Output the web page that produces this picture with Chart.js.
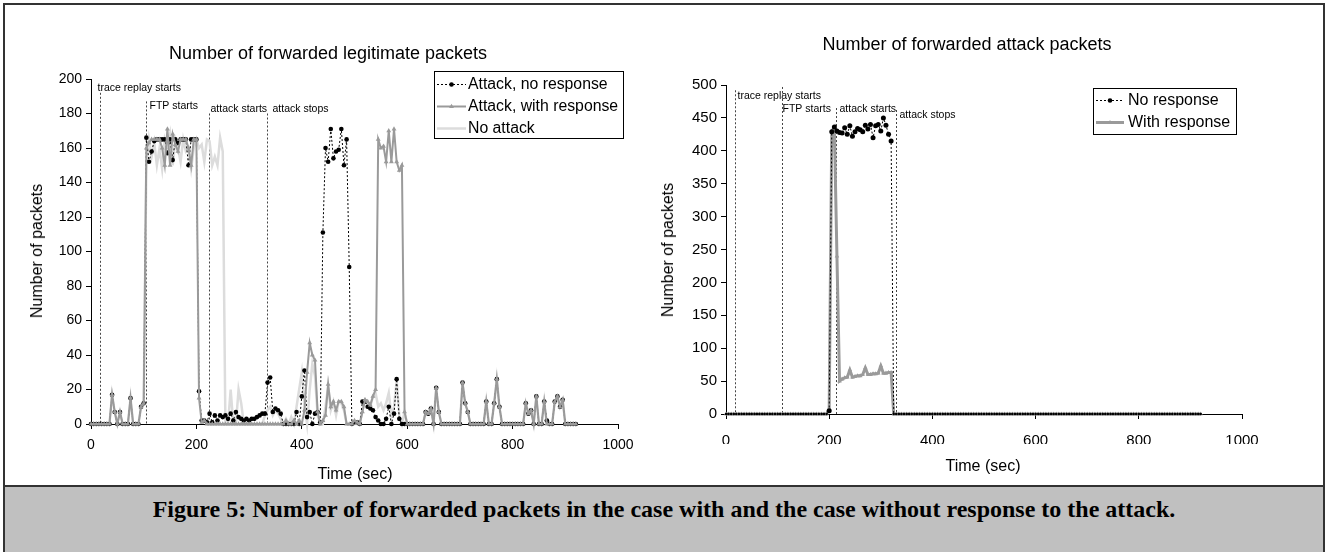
<!DOCTYPE html>
<html>
<head>
<meta charset="utf-8">
<script src="https://cdn.jsdelivr.net/npm/chart.js@4.4.1/dist/chart.umd.min.js"></script>
<style>
  html, body { margin:0; padding:0; background:#fff; }
  body { width:1328px; height:552px; position:relative; overflow:hidden; font-family:"Liberation Sans", Arial, sans-serif; }
  #frame { position:absolute; left:3px; top:3px; width:1322px; height:600px; border:2px solid #333; box-sizing:border-box; }
  #caption { position:absolute; left:3px; top:485px; width:1322px; height:80px; background:#c0c0c0; border-top:2px solid #333; border-left:2px solid #333; border-right:2px solid #333; box-sizing:border-box; }
  #caption div { position:absolute; left:0; right:0; top:10px; text-align:center; font-family:"Liberation Serif","Times New Roman",serif; font-weight:bold; font-size:24px; line-height:1; color:#000; }
  .lbl { position:absolute; white-space:nowrap; color:#000; line-height:1; transform:translate(-50%,-50%); }
  .rot { transform:translate(-50%,-50%) rotate(-90deg); }
  canvas { position:absolute; top:0; }
</style>
</head>
<body>
<div id="frame"></div>
<canvas id="c1" width="664" height="485" style="left:0px"></canvas>
<canvas id="c2" width="664" height="485" style="left:664px"></canvas>
<div class="lbl" style="left:328px;top:53px;font-size:18px;">Number of forwarded legitimate packets</div>
<div class="lbl" style="left:967px;top:44px;font-size:18px;">Number of forwarded attack packets</div>
<div class="lbl rot" style="left:37px;top:251px;font-size:16px;">Number of packets</div>
<div class="lbl rot" style="left:668px;top:250px;font-size:16px;">Number of packets</div>
<div class="lbl" style="left:355px;top:474px;font-size:16px;">Time (sec)</div>
<div class="lbl" style="left:983px;top:466px;font-size:16px;">Time (sec)</div>
<div id="caption"><div>Figure 5: Number of forwarded packets in the case with and the case without response to the attack.</div></div>
<script>
// ---------------- DATA ----------------
const timeSec = [
0,5,10,15,20,25,30,35,40,45,50,55,60,65,70,75,80,85,90,95,
100,105,110,115,120,125,130,135,140,145,150,155,160,165,170,175,180,185,190,195,
200,205,210,215,220,225,230,235,240,245,250,255,260,265,270,275,280,285,290,295,
300,305,310,315,320,325,330,335,340,345,350,355,360,365,370,375,380,385,390,395,
400,405,410,415,420,425,430,435,440,445,450,455,460,465,470,475,480,485,490,495,
500,505,510,515,520,525,530,535,540,545,550,555,560,565,570,575,580,585,590,595,
600,605,610,615,620,625,630,635,640,645,650,655,660,665,670,675,680,685,690,695,
700,705,710,715,720,725,730,735,740,745,750,755,760,765,770,775,780,785,790,795,
800,805,810,815,820,825,830,835,840,845,850,855,860,865,870,875,880,885,890,895,
900,905,910,915,920];

// Left chart: forwarded legitimate packets
const legitAttackNoResponse = [
0,0,0,0,0,0,0,0,17,7,0,7,0,0,0,15,0,0,0,10,
12,166,152,158,164,165,165,165,165,157,165,153,165,163,165,165,165,150,165,165,
165,19,2,2,1,6,1,5,2,5,4,5,3,6,2,7,4,3,2,3,
2,3,3,4,5,6,6,24,27,7,9,8,6,0,0,0,0,0,7,0,
16,31,4,7,0,6,7,1,111,160,152,171,154,158,159,171,150,165,91,0,
1,1,0,13,13,10,9,8,4,2,0,0,3,10,0,6,26,3,0,0,
0,0,0,0,0,0,0,7,6,9,0,21,7,0,0,0,0,0,0,0,
0,24,12,7,0,0,0,0,0,0,13,0,0,12,26,10,0,0,0,0,
0,0,0,0,0,12,6,8,0,16,0,0,13,2,0,0,13,16,10,14,
0,0,0,0,0];

const legitAttackWithResponse = [
0,0,0,0,0,0,0,0,17,7,0,7,0,0,0,15,0,0,0,10,
12,160,163,165,165,165,165,160,150,171,150,168,162,158,165,165,165,160,150,165,
165,15,1,2,0,0,0,0,0,0,0,0,0,0,0,0,0,0,0,0,
0,0,0,0,0,0,0,0,0,0,0,0,0,0,2,0,0,2,0,2,
0,8,30,47,40,37,7,0,2,5,23,10,13,8,13,13,10,0,0,0,
2,1,0,7,14,13,11,16,20,165,160,161,152,170,152,171,152,147,150,7,
0,0,0,0,0,0,0,7,6,9,0,21,7,0,0,0,0,0,0,0,
0,24,12,7,0,0,0,0,0,0,13,0,0,12,26,10,0,0,0,0,
0,0,0,0,0,12,6,8,0,16,0,0,13,0,0,0,13,16,10,14,
0,0,0,0,0];

const legitNoAttack = [
0,0,0,0,0,0,0,0,17,7,0,7,0,0,0,15,0,0,0,10,
12,150,165,155,163,150,160,148,165,160,168,150,165,160,152,165,158,160,148,160,
165,160,162,152,165,164,150,155,150,166,158,0,0,20,0,0,20,12,0,0,
0,0,0,0,0,0,5,8,10,5,8,6,3,0,3,0,4,0,10,20,
30,12,0,20,35,28,5,0,0,10,22,8,13,5,13,12,8,0,0,0,
0,0,0,8,14,12,10,16,18,10,12,8,12,18,5,10,25,5,0,7,
0,0,0,0,0,0,0,7,6,9,0,21,7,0,0,0,0,0,0,0,
0,24,12,7,0,0,0,0,0,0,13,0,0,12,26,10,0,0,0,0,
0,0,0,0,0,12,6,8,0,16,0,0,13,0,0,0,13,16,10,14,
0,0,0,0,0];

// Right chart: forwarded attack packets
const attackNoResponse = [
0,0,0,0,0,0,0,0,0,0,0,0,0,0,0,0,0,0,0,0,
0,0,0,0,0,0,0,0,0,0,0,0,0,0,0,0,0,0,0,0,
5,429,436,430,428,427,435,425,438,422,429,434,432,429,439,433,440,420,438,440,
430,450,439,425,415,0,0,0,0,0,0,0,0,0,0,0,0,0,0,0,
0,0,0,0,0,0,0,0,0,0,0,0,0,0,0,0,0,0,0,0,
0,0,0,0,0,0,0,0,0,0,0,0,0,0,0,0,0,0,0,0,
0,0,0,0,0,0,0,0,0,0,0,0,0,0,0,0,0,0,0,0,
0,0,0,0,0,0,0,0,0,0,0,0,0,0,0,0,0,0,0,0,
0,0,0,0,0,0,0,0,0,0,0,0,0,0,0,0,0,0,0,0,
0,0,0,0,0];

const attackWithResponse = [
0,0,0,0,0,0,0,0,0,0,0,0,0,0,0,0,0,0,0,0,
0,0,0,0,0,0,0,0,0,0,0,0,0,0,0,0,0,0,0,0,
8,430,435,240,50,53,55,56,67,56,57,58,58,60,70,60,60,61,61,62,
73,62,62,63,63,0,0,0,0,0,0,0,0,0,0,0,0,0,0,0,
0,0,0,0,0,0,0,0,0,0,0,0,0,0,0,0,0,0,0,0,
0,0,0,0,0,0,0,0,0,0,0,0,0,0,0,0,0,0,0,0,
0,0,0,0,0,0,0,0,0,0,0,0,0,0,0,0,0,0,0,0,
0,0,0,0,0,0,0,0,0,0,0,0,0,0,0,0,0,0,0,0,
0,0,0,0,0,0,0,0,0,0,0,0,0,0,0,0,0,0,0,0,
0,0,0,0,0];

const xTickValues = [0, 200, 400, 600, 800, 1000];
const leftYTickValues = [0, 20, 40, 60, 80, 100, 120, 140, 160, 180, 200];
const rightYTickValues = [0, 50, 100, 150, 200, 250, 300, 350, 400, 450, 500];

const leftEventNames = ['trace replay starts', 'FTP starts', 'attack starts', 'attack stops'];
const leftEventTimes = [18, 105, 224, 334];
const rightEventNames = ['trace replay starts', 'FTP starts', 'attack starts', 'attack stops'];
const rightEventTimes = [17, 109, 213, 329];

const leftSeriesNames = ['Attack, no response', 'Attack, with response', 'No attack'];
const rightSeriesNames = ['No response', 'With response'];

// ---------------- LAYOUT / STYLE ----------------
Chart.defaults.font.family = "'Liberation Sans', Arial, sans-serif";
Chart.defaults.color = '#000';

const leftEventLayout = [ {top:192, labelV:195, dx:-3}, {top:187, labelV:184, dx:3}, {top:180, labelV:182.5, dx:1}, {top:180, labelV:182.5, dx:5} ];
const rightEventLayout = [ {top:492, labelV:483, dx:2}, {top:497, labelV:463, dx:0}, {top:465, labelV:463, dx:3}, {top:462, labelV:454, dx:3} ];

function pts(vals) { return timeSec.map((t, i) => ({ x: t, y: vals[i] })); }

function drawMarker(ctx, style, x, y, r, color) {
  ctx.save();
  ctx.fillStyle = color; ctx.strokeStyle = color; ctx.setLineDash([]);
  ctx.beginPath();
  if (style === 'circle') {
    ctx.arc(x, y, r, 0, Math.PI * 2);
  } else {
    let rad = 0;
    ctx.moveTo(x + Math.sin(rad) * r, y - Math.cos(rad) * r);
    rad += 2 * Math.PI / 3;
    ctx.lineTo(x + Math.sin(rad) * r, y - Math.cos(rad) * r);
    rad += 2 * Math.PI / 3;
    ctx.lineTo(x + Math.sin(rad) * r, y - Math.cos(rad) * r);
    ctx.closePath();
  }
  ctx.fill();
  ctx.restore();
}

function makeEventPlugin(names, times, layout) {
  return {
    id: 'eventsLines',
    beforeDatasetsDraw(chart) {
      const ctx = chart.ctx, xs = chart.scales.x, ys = chart.scales.y;
      ctx.save();
      names.forEach((name, i) => {
        const px = Math.round(xs.getPixelForValue(times[i])) + 0.5;
        const L = layout[i];
        ctx.strokeStyle = '#444'; ctx.lineWidth = 1; ctx.setLineDash([2, 2]);
        ctx.beginPath();
        ctx.moveTo(px, ys.getPixelForValue(L.top));
        ctx.lineTo(px, ys.getPixelForValue(0));
        ctx.stroke();
        ctx.setLineDash([]);
        ctx.fillStyle = '#000';
        ctx.font = "10.5px 'Liberation Sans', Arial, sans-serif";
        ctx.textBaseline = 'middle'; ctx.textAlign = 'left';
        ctx.fillText(name, px + L.dx, ys.getPixelForValue(L.labelV));
      });
      ctx.restore();
    }
  };
}

function makeLegendPlugin(box, items, font) {
  return {
    id: 'boxLegend',
    afterDraw(chart) {
      const ctx = chart.ctx;
      ctx.save();
      ctx.fillStyle = '#fff';
      ctx.fillRect(box.x, box.y, box.w, box.h);
      ctx.strokeStyle = '#000'; ctx.lineWidth = 1; ctx.setLineDash([]);
      ctx.strokeRect(box.x + 0.5, box.y + 0.5, box.w, box.h);
      items.forEach((it, i) => {
        const y = box.y + box.row0 + i * box.gap;
        ctx.save();
        ctx.strokeStyle = it.color; ctx.lineWidth = it.width; ctx.setLineDash(it.dash);
        ctx.beginPath(); ctx.moveTo(box.x + box.s0, y + 0.5); ctx.lineTo(box.x + box.s1, y + 0.5); ctx.stroke();
        ctx.restore();
        if (it.marker) drawMarker(ctx, it.marker, box.x + (box.s0 + box.s1) / 2, y + 0.5, it.mr, it.color);
        ctx.fillStyle = '#000'; ctx.font = font; ctx.textBaseline = 'middle'; ctx.textAlign = 'left';
        ctx.fillText(it.label, box.x + box.tx, y + 1);
      });
      ctx.restore();
    }
  };
}

function axisOpts(min, max, tickValues, afterFitFn, pad, fontSize) {
  return {
    type: 'linear', min: min, max: max,
    afterBuildTicks(scale) { scale.ticks = tickValues.map(v => ({ value: v })); },
    ticks: { color: '#000', font: { size: fontSize }, padding: pad, maxRotation: 0, autoSkip: false,
             callback: (v) => String(v) },
    grid: { display: true, drawOnChartArea: false, drawTicks: true, tickLength: 5, color: '#000', lineWidth: 1 },
    border: { display: true, color: '#000', width: 1 },
    afterFit: afterFitFn
  };
}

const zeroSmall = (big, small) => (c) => (c.raw && c.raw.y === 0 ? small : big);

// ---------------- LEFT CHART ----------------
new Chart(document.getElementById('c1'), {
  type: 'line',
  data: {
    datasets: [
      { label: leftSeriesNames[0], data: pts(legitAttackNoResponse), borderColor: '#000', borderWidth: 1, borderDash: [2, 2],
        pointStyle: 'circle', pointRadius: 2.3, pointBackgroundColor: '#000', pointBorderColor: '#000', pointBorderWidth: 0, order: 1, clip: false },
      { label: leftSeriesNames[1], data: pts(legitAttackWithResponse), borderColor: '#9a9a9a', borderWidth: 2,
        pointStyle: 'triangle', pointRadius: 2.8, pointBackgroundColor: '#9a9a9a', pointBorderColor: '#9a9a9a', pointBorderWidth: 0, order: 0, clip: false },
      { label: leftSeriesNames[2], data: pts(legitNoAttack), borderColor: '#dcdcdc', borderWidth: 2.5,
        pointRadius: 0, order: 2, clip: false }
    ]
  },
  options: {
    responsive: false, animation: false, devicePixelRatio: 1,
    layout: { padding: { left: 0, top: 79, right: 46, bottom: 31 } },
    plugins: { legend: { display: false }, tooltip: { enabled: false }, title: { display: false } },
    elements: { line: { tension: 0 } },
    scales: {
      x: axisOpts(0, 1000, xTickValues, s => { s.height = 30; }, 8, 14),
      y: axisOpts(0, 200, leftYTickValues, s => { s.width = 91; }, 4, 14)
    }
  },
  plugins: [
    makeEventPlugin(leftEventNames, leftEventTimes, leftEventLayout),
    makeLegendPlugin({ x: 434, y: 71, w: 189, h: 67, row0: 13, gap: 22, s0: 3, s1: 32, tx: 34 }, [
      { label: leftSeriesNames[0], color: '#000', width: 1, dash: [2, 2], marker: 'circle', mr: 2.3 },
      { label: leftSeriesNames[1], color: '#9a9a9a', width: 2, dash: [], marker: 'triangle', mr: 2.8 },
      { label: leftSeriesNames[2], color: '#dcdcdc', width: 2.5, dash: [], marker: null, mr: 0 }
    ], "15.8px 'Liberation Sans', Arial, sans-serif")
  ]
});

// ---------------- RIGHT CHART ----------------
new Chart(document.getElementById('c2'), {
  type: 'line',
  data: {
    datasets: [
      { label: rightSeriesNames[0], data: pts(attackNoResponse), borderColor: '#000', borderWidth: 1, borderDash: [2, 2],
        pointStyle: 'circle', pointRadius: zeroSmall(2.5, 1.2), pointBackgroundColor: '#000', pointBorderColor: '#000', pointBorderWidth: 0, order: 0, clip: false },
      { label: rightSeriesNames[1], data: pts(attackWithResponse), borderColor: '#9a9a9a', borderWidth: 3,
        pointStyle: 'triangle', pointRadius: zeroSmall(2.6, 2.4), pointBackgroundColor: '#9a9a9a', pointBorderColor: '#9a9a9a', pointBorderWidth: 0, order: 1, clip: false }
    ]
  },
  options: {
    responsive: false, animation: false, devicePixelRatio: 1,
    layout: { padding: { left: 0, top: 85, right: 86, bottom: 41 } },
    plugins: { legend: { display: false }, tooltip: { enabled: false }, title: { display: false } },
    elements: { line: { tension: 0 } },
    scales: {
      x: axisOpts(0, 1000, xTickValues, s => { s.height = 30; }, 13, 15),
      y: axisOpts(0, 500, rightYTickValues, s => { s.width = 62; }, 4, 15)
    }
  },
  plugins: [
    makeEventPlugin(rightEventNames, rightEventTimes, rightEventLayout),
    makeLegendPlugin({ x: 429, y: 88, w: 143, h: 46, row0: 12, gap: 22, s0: 3, s1: 31, tx: 35 }, [
      { label: rightSeriesNames[0], color: '#000', width: 1, dash: [2, 2], marker: 'circle', mr: 2.3 },
      { label: rightSeriesNames[1], color: '#9a9a9a', width: 3, dash: [], marker: 'triangle', mr: 2.6 }
    ], "16px 'Liberation Sans', Arial, sans-serif")
  ]
});
</script>
</body>
</html>
